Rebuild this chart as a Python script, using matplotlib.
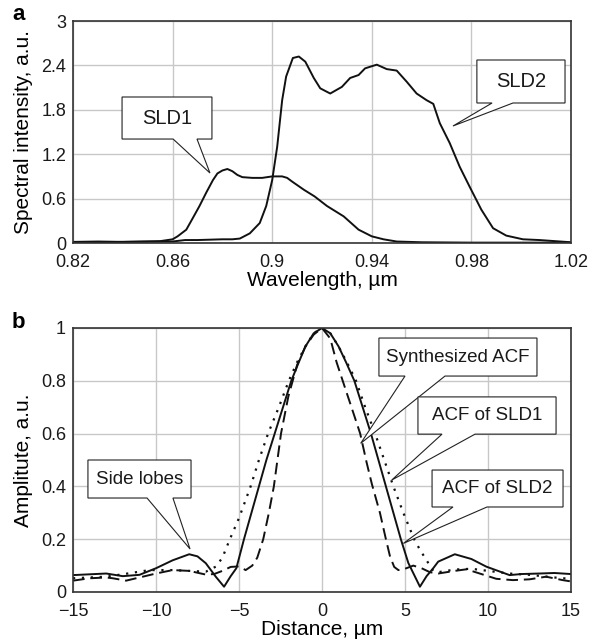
import matplotlib.pyplot as plt
from matplotlib.patches import Polygon

plt.rcParams['font.family'] = ['Liberation Sans', 'DejaVu Sans']

# Panel a: spectra of the two SLDs
sld1_wl = [0.82, 0.83, 0.84, 0.85, 0.855, 0.86, 0.862, 0.8655, 0.868, 0.8708, 0.8735,
           0.8762, 0.878, 0.880, 0.882, 0.884, 0.886, 0.888, 0.892, 0.896, 0.900, 0.904,
           0.906, 0.908, 0.911, 0.9127, 0.917, 0.922, 0.9287, 0.9347, 0.94, 0.9447, 0.95,
           0.96, 0.98, 1.0, 1.02]
sld1_int = [0.01, 0.01, 0.015, 0.02, 0.025, 0.05, 0.09, 0.18, 0.33, 0.5, 0.68,
            0.85, 0.94, 0.98, 1.0, 0.97, 0.92, 0.89, 0.88, 0.88, 0.9, 0.9,
            0.88, 0.83, 0.76, 0.72, 0.63, 0.5, 0.36, 0.18, 0.09, 0.05, 0.02,
            0.01, 0.005, 0.005, 0.005]

sld2_wl = [0.82, 0.83, 0.84, 0.85, 0.86, 0.865, 0.87, 0.875, 0.88, 0.884, 0.887, 0.891,
           0.895, 0.8976, 0.900, 0.902, 0.904, 0.9056, 0.9083, 0.9107, 0.9133, 0.9167,
           0.9193, 0.9233, 0.928, 0.9313, 0.9347, 0.9373, 0.942, 0.946, 0.95, 0.954,
           0.958, 0.962, 0.9647, 0.9673, 0.9713, 0.9753, 0.9793, 0.984, 0.9887, 0.994,
           1.0007, 1.0073, 1.02]
sld2_int = [0.015, 0.02, 0.015, 0.02, 0.02, 0.04, 0.04, 0.045, 0.05, 0.05, 0.06, 0.13,
            0.27, 0.5, 0.85, 1.3, 1.93, 2.25, 2.5, 2.52, 2.45, 2.23,
            2.09, 2.02, 2.11, 2.23, 2.27, 2.36, 2.41, 2.35, 2.33, 2.18,
            2.02, 1.93, 1.88, 1.62, 1.35, 1.03, 0.76, 0.45, 0.2, 0.1,
            0.05, 0.04, 0.01]

# Panel b: autocorrelation functions
synth_x = [-15, -14, -13, -12.6, -11.8, -11, -10, -9, -8, -7, -6.5, -6, -5.5, -5, -4.6,
           -4.2, -3.9, -3.54, -3.2, -2.9, -2.47, -2.03, -1.5, -1, -0.5, 0, 0.5, 0.88,
           1.3, 1.88, 2.3, 2.69, 3.0, 3.49, 3.85, 4.1, 4.35, 4.6, 5.0, 5.5, 6.0, 6.5,
           7, 8, 8.7, 9.5, 10.5, 11.5, 12.5, 13.5, 14.5, 15]
synth_y = [0.043, 0.052, 0.055, 0.052, 0.043, 0.055, 0.07, 0.083, 0.08, 0.066, 0.068,
           0.08, 0.095, 0.097, 0.083, 0.1, 0.13, 0.2, 0.3, 0.4, 0.6, 0.74, 0.86, 0.93,
           0.975, 1.0, 0.96, 0.87, 0.79, 0.68, 0.6, 0.49, 0.41, 0.3, 0.2, 0.134, 0.095,
           0.083, 0.088, 0.1, 0.09, 0.075, 0.07, 0.08, 0.086, 0.07, 0.05, 0.045, 0.048,
           0.058, 0.045, 0.04]

acf1_x = [-15, -13, -11.6, -10.4, -9, -7, -6.4, -6.0, -5.55, -5.0, -4.3, -3.8, -3.25,
          -2.6, -2.0, -1.5, -1, -0.5, 0, 0.5, 1, 1.5, 2.05, 2.6, 3.2, 3.75, 4.3, 4.9,
          5.55, 5.9, 6.4, 6.7, 7, 8, 9, 10, 11.3, 12.5, 14.3, 15]
acf1_y = [0.052, 0.058, 0.071, 0.083, 0.083, 0.077, 0.096, 0.13, 0.2, 0.28, 0.4, 0.5,
          0.6, 0.7, 0.8, 0.87, 0.93, 0.98, 1.0, 0.98, 0.93, 0.87, 0.8, 0.7, 0.6, 0.5,
          0.4, 0.3, 0.2, 0.16, 0.11, 0.08, 0.075, 0.085, 0.088, 0.08, 0.07, 0.065,
          0.053, 0.05]

acf2_x = [-15, -13, -12, -11, -10, -9, -8, -7.5, -7, -6.4, -5.9, -5.5, -5.16, -4.7,
          -4.25, -3.8, -3.35, -2.85, -2.35, -1.85, -1.4, -1, -0.5, 0, 0.5, 1, 1.45,
          1.95, 2.45, 2.95, 3.4, 3.85, 4.3, 4.75, 5.2, 5.9, 6.3, 6.7, 7, 8, 9, 9.9,
          11.3, 12, 13.1, 14, 15]
acf2_y = [0.064, 0.07, 0.06, 0.065, 0.09, 0.12, 0.143, 0.135, 0.109, 0.058, 0.02, 0.06,
          0.09, 0.2, 0.3, 0.4, 0.5, 0.6, 0.7, 0.8, 0.87, 0.93, 0.98, 1.0, 0.98, 0.93,
          0.87, 0.8, 0.7, 0.6, 0.5, 0.4, 0.3, 0.2, 0.11, 0.02, 0.06, 0.09, 0.115,
          0.143, 0.125, 0.096, 0.064, 0.068, 0.07, 0.072, 0.068]

wl_ticks = [0.82, 0.86, 0.9, 0.94, 0.98, 1.02]
wl_labels = ['0.82', '0.86', '0.9', '0.94', '0.98', '1.02']
int_ticks = [0, 0.6, 1.2, 1.8, 2.4, 3]
int_labels = ['0', '0.6', '1.2', '1.8', '2.4', '3']
dist_ticks = [-15, -10, -5, 0, 5, 10, 15]
dist_labels = ['\u221215', '\u221210', '\u22125', '0', '5', '10', '15']
amp_ticks = [0, 0.2, 0.4, 0.6, 0.8, 1]
amp_labels = ['0', '0.2', '0.4', '0.6', '0.8', '1']


def callout(ax, text, x0, x1, y0, y1, g0, g1, tip, size):
    # box with a wedge from the bottom edge to the tip
    pts = [(x0, y1), (x1, y1), (x1, y0), (g1, y0), tip, (g0, y0), (x0, y0)]
    ax.add_patch(Polygon(pts, closed=True, facecolor='white', edgecolor='#222222',
                         linewidth=0.8, zorder=5))
    ax.text((x0 + x1) / 2, (y0 + y1) / 2, text, ha='center', va='center',
            fontsize=size, color='#1a1a1a', zorder=6)


def style(ax):
    ax.grid(True, color='#c8c8c8', linewidth=1.0)
    ax.set_axisbelow(True)
    ax.tick_params(axis='x', length=0, labelsize=13, pad=8, colors='#1a1a1a')
    ax.tick_params(axis='y', length=0, labelsize=13, pad=5, colors='#1a1a1a')
    for sp in ax.spines.values():
        sp.set_linewidth(1.2)
        sp.set_color('#333333')


fig = plt.figure(figsize=(5.96, 6.44), dpi=100)

# Panel a
ax1 = fig.add_axes([73 / 596, 1 - 243 / 644, 498 / 596, 222 / 644])
ax1.plot(sld1_wl, sld1_int, color='#111111', linewidth=1.4)
ax1.plot(sld2_wl, sld2_int, color='#111111', linewidth=1.4)
ax1.set_xlim(0.82, 1.02)
ax1.set_ylim(0, 3)
ax1.set_xticks(wl_ticks, wl_labels)
ax1.set_yticks(int_ticks, int_labels)
style(ax1)
ax1.set_xlabel('Wavelength, \u00b5m', fontsize=15, labelpad=0)
ax1.set_ylabel('Spectral intensity, a.u.', fontsize=15, labelpad=6)
callout(ax1, 'SLD1', 0.8397, 0.8758, 1.405, 1.973, 0.8602, 0.8698, (0.875, 0.946), 14.5)
callout(ax1, 'SLD2', 0.9822, 1.0176, 1.892, 2.473, 0.9883, 0.9967, (0.9726, 1.581), 14.5)
fig.text(12 / 596, 1 - 20 / 644, 'a', fontsize=16, fontweight='bold')

# Panel b
ax2 = fig.add_axes([73 / 596, 1 - 592 / 644, 498 / 596, 264 / 644])
ax2.plot(acf2_x, acf2_y, color='#111111', linewidth=1.4)
ax2.plot(acf1_x, acf1_y, color='#111111', linewidth=1.6, linestyle=(0, (1, 3)))
ax2.plot(synth_x, synth_y, color='#111111', linewidth=1.4, linestyle=(0, (6, 3)))
ax2.set_xlim(-15, 15)
ax2.set_ylim(0, 1)
ax2.set_xticks(dist_ticks, dist_labels)
ax2.set_yticks(amp_ticks, amp_labels)
style(ax2)
ax2.set_xlabel('Distance, \u00b5m', fontsize=15, labelpad=0)
ax2.set_ylabel('Amplitute, a.u.', fontsize=15, labelpad=6)
callout(ax2, 'Side lobes', -14.1, -7.89, 0.356, 0.5, -10.54, -8.98, (-7.95, 0.163), 13.5)
callout(ax2, 'Synthesized ACF', 3.43, 12.95, 0.818, 0.962, 5.0, 7.41, (2.33, 0.563), 13.5)
callout(ax2, 'ACF of SLD1', 5.78, 14.1, 0.598, 0.739, 7.23, 9.22, (4.2, 0.424), 13.5)
callout(ax2, 'ACF of SLD2', 6.63, 14.52, 0.322, 0.462, 7.89, 9.94, (4.9, 0.184), 13.5)
fig.text(12 / 596, 1 - 328 / 644, 'b', fontsize=16, fontweight='bold')

fig.savefig('out.png', dpi=100)
